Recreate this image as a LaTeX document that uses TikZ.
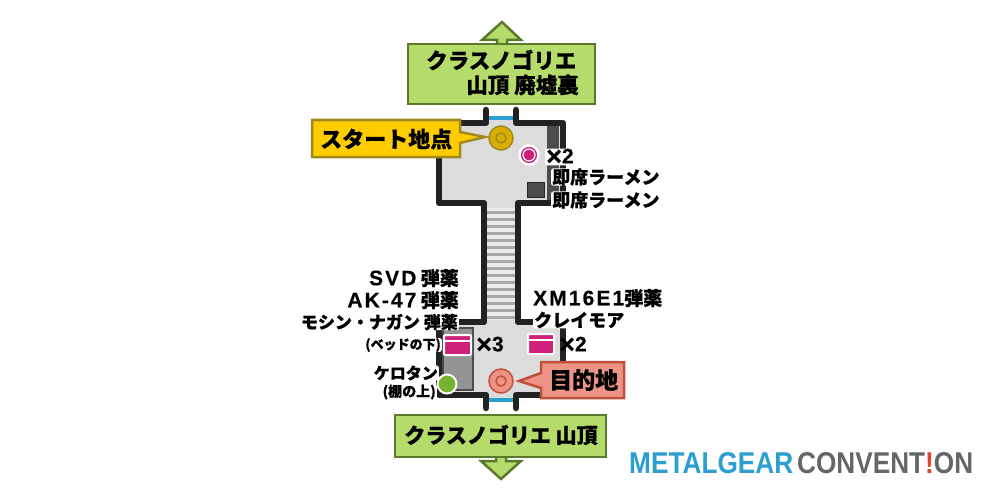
\documentclass[tikz,border=0pt]{standalone}
\usepackage{fontspec}
\usepackage{xcolor}
\newfontfamily\jpfont{Noto Sans CJK JP}[BoldFeatures={FakeBold=0.6}]
\setmainfont{Liberation Sans}
\newfontfamily\latfont{Liberation Sans}[LetterSpace=10, BoldFeatures={FakeBold=0.3}]
\newfontfamily\numfont{Liberation Sans}[BoldFeatures={FakeBold=0.3}]
\definecolor{wallc}{HTML}{222222}
\definecolor{floorc}{HTML}{DCDCDC}
\definecolor{greenc}{HTML}{B5DC6A}
\definecolor{greenl}{HTML}{5A7A2A}
\definecolor{yellowc}{HTML}{FFCC00}
\definecolor{yellowl}{HTML}{A08A20}
\definecolor{goalc}{HTML}{EC9385}
\definecolor{goall}{HTML}{C0503C}
\definecolor{pinkc}{HTML}{D0207A}
\definecolor{keroc}{HTML}{78B030}
\definecolor{doorc}{HTML}{2A9FD0}
\definecolor{logog}{HTML}{666666}
\definecolor{logor}{HTML}{E0452C}
\tikzset{
	wall/.style = {draw=wallc, line width=6.5pt, line cap=round, line join=round},
	sign/.style = {line width=2.5pt, line join=miter},
	lbl/.style = {inner sep=0pt, font=\jpfont\bfseries, text=black},
	halo/.style = {lbl, fill=white, inner xsep=1pt, inner ysep=0pt, rounded corners=2pt},
	marker/.style = {draw=white, line width=2pt},
}
\newcommand{\jpsize}[1]{\jpfont\bfseries\fontsize{#1}{#1}\selectfont}
\newcommand{\latsize}[1]{\latfont\bfseries\fontsize{#1}{#1}\selectfont}
\newcommand{\counted}[1]{\raisebox{-2pt}{\numfont\bfseries\fontsize{27}{27}\selectfont ×}{\numfont\bfseries\fontsize{21}{21}\selectfont #1}}
\begin{document}
\begin{tikzpicture}[x=1pt, y=-1pt]
	\useasboundingbox (0, 0) rectangle (1000, 500);
	\fill[white] (0, 0) rectangle (1000, 500);
	% floors
	\fill[floorc] (439, 123) -- (486, 123) -- (486, 118) -- (516, 118) -- (516, 123) -- (563, 123) -- (563, 203) -- (517, 203) -- (517, 322) -- (563, 322) -- (563, 395) -- (516, 395) -- (516, 400) -- (486, 400) -- (486, 395) -- (439, 395) -- (439, 322) -- (484, 322) -- (484, 203) -- (439, 203) -- cycle;
	% stairs
	\fill[black!8] (486, 208) rectangle (515, 320);
	\foreach \y in {212, 219, ..., 317}
		\draw[black!34, line width=3pt] (486, \y) -- (515, \y);
	% shelf and bed
	\fill[black!70] (547, 126) rectangle (559, 200);
	\filldraw[fill=black!70, draw=black!85, line width=1pt] (527, 182) rectangle (544, 197);
	\filldraw[fill=black!42, draw=black!70, line width=1.5pt] (443, 328) rectangle (473, 390);
	% walls
	\draw[wall] (486, 110) -- (486, 123) -- (439, 123) -- (439, 203) -- (484, 203) -- (484, 322) -- (439, 322) -- (439, 395) -- (486, 395) -- (486, 408);
	\draw[wall] (516, 110) -- (516, 123) -- (563, 123) -- (563, 203) -- (518, 203) -- (518, 322) -- (563, 322) -- (563, 395) -- (516, 395) -- (516, 408);
	\draw[doorc, line width=3.5pt] (489, 118) -- (513, 118);
	\draw[doorc, line width=3.5pt] (489, 400) -- (513, 400);
	% arrows
	\filldraw[fill=greenc, draw=greenl, sign] (482, 40) -- (502, 22) -- (521, 40) -- (507, 40) -- (507, 46) -- (497, 46) -- (497, 40) -- cycle;
	\filldraw[fill=greenc, draw=greenl, sign] (481, 461) -- (501, 479) -- (521, 461) -- (506, 461) -- (506, 455) -- (496, 455) -- (496, 461) -- cycle;
	% signs
	\filldraw[fill=greenc, draw=greenl, sign] (408, 44) rectangle (595, 104);
	\filldraw[fill=greenc, draw=greenl, sign] (395, 415) rectangle (606, 457);
	\filldraw[fill=yellowc, draw=yellowl, sign] (312, 120) -- (460, 120) -- (460, 132) -- (485, 137) -- (460, 143) -- (460, 157) -- (312, 157) -- cycle;
	\filldraw[fill=goalc, draw=goall, sign] (541, 362) -- (624, 362) -- (624, 398) -- (541, 398) -- (541, 388) -- (519, 381) -- (541, 373) -- cycle;
	% start and goal
	\filldraw[fill=yellowc!85!black, draw=yellowl, line width=1.5pt] (501, 138) circle (12);
	\draw[yellowl, line width=1.5pt] (501, 138) circle (5);
	\filldraw[fill=goalc, draw=goall, line width=1.5pt] (501, 381) circle (12);
	\draw[goall, line width=1.5pt] (501, 381) circle (5);
	% labels on signs
	\node[lbl, anchor=west, font=\jpsize{21.5}] (title1) at (426, 60) {クラスノゴリエ};
	\node[lbl, anchor=east, font=\jpsize{21.5}] (title2) at (579, 85) {山頂 廃墟裏};
	\node[lbl, anchor=west, font=\jpsize{22}] (start) at (320, 139) {スタート地点};
	\node[lbl, anchor=west, font=\jpsize{23}] (goal) at (549, 380) {目的地};
	\node[lbl, anchor=center, font=\jpsize{21}] (title3) at (501, 435) {クラスノゴリエ 山頂};
	% item labels
	\node[halo, anchor=west, font=\jpsize{18}] (ramen1) at (551, 177) {即席ラーメン};
	\node[halo, anchor=west, font=\jpsize{18}] (ramen2) at (551, 200) {即席ラーメン};
	\node[halo, anchor=west] (times1) at (545, 157) {\counted{2}};
	\node[lbl, anchor=east, font=\jpsize{19}] (svd) at (459, 278) {{\latsize{21}SVD} 弾薬};
	\node[lbl, anchor=east, font=\jpsize{19}] (ak) at (459, 300) {{\latsize{21}AK-47} 弾薬};
	\node[halo, anchor=east, font=\jpsize{17}] (mosin) at (459, 322) {モシン・ナガン 弾薬};
	\node[halo, anchor=east, font=\jpsize{13}] (bed) at (442, 345) {(ベッドの下)};
	\node[lbl, anchor=west, font=\jpsize{19}] (xm) at (533, 298) {{\latsize{21}XM16E1}弾薬};
	\node[halo, anchor=west, font=\jpsize{18}] (clay) at (533, 320) {クレイモア};
	\node[halo, anchor=east, font=\jpsize{16}] (kero) at (439, 373) {ケロタン};
	\node[halo, anchor=east, font=\jpsize{14}] (shelf) at (437, 392) {(棚の上)};
	% items
	\filldraw[fill=pinkc, draw=white, line width=2.5pt] (529, 155) circle (9.5);
	\draw[white, line width=1.2pt] (529, 155) circle (6);
	\filldraw[fill=pinkc, marker, rounded corners=1pt] (444, 335) rectangle (471, 355);
	\fill[white] (444, 340) rectangle (471, 342);
	\filldraw[fill=pinkc, marker, rounded corners=1pt] (528, 334) rectangle (554, 354);
	\fill[white] (528, 339) rectangle (554, 341);
	\filldraw[fill=keroc, marker] (447, 384) circle (9.5);
	\node[lbl, anchor=west] (times2) at (476, 345) {\counted{3}};
	\node[lbl, anchor=west] (times3) at (559, 345) {\counted{2}};
	% logo
	\node[inner sep=0pt, anchor=west, text=doorc, font=\bfseries] (logo1) at (629, 463) {\resizebox{164pt}{21pt}{METALGEAR}};
	\node[inner sep=0pt, anchor=west, text=logog, font=\bfseries] (logo2) at (797, 463) {\resizebox{176pt}{21pt}{CONVENT\textcolor{logor}{!}ON}};
\end{tikzpicture}
\end{document}
